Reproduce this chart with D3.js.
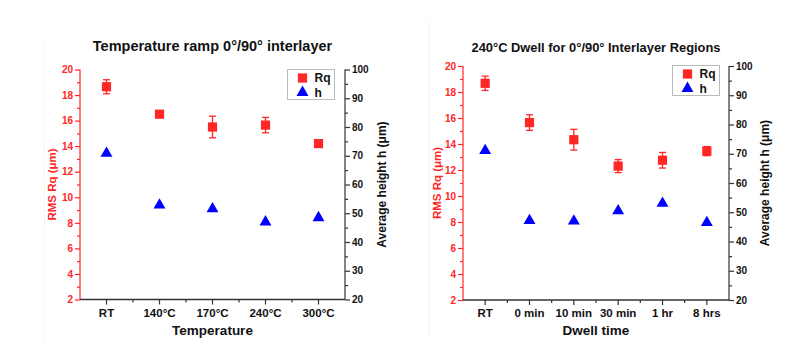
<!DOCTYPE html>
<html>
<head>
<meta charset="utf-8">
<script src="https://cdn.jsdelivr.net/npm/d3@7"></script>
<style>
  body { margin: 0; background: #fff; }
  svg { font-family: "Liberation Sans", Arial, sans-serif; }
</style>
</head>
<body>
<div id="chart"></div>
<script>
// panel 1: temperature ramp
const tempCats = ["RT", "140°C", "170°C", "240°C", "300°C"];
const tempRq = [18.65, 16.5, 15.5, 15.65, 14.2];
const tempRqErr = [0.55, 0.15, 0.85, 0.6, 0.2];
const tempH = [71.2, 53.2, 51.9, 47.3, 48.8];

// panel 2: 240°C dwell
const dwellCats = ["RT", "0 min", "10 min", "30 min", "1 hr", "8 hrs"];
const dwellRq = [18.67, 15.65, 14.33, 12.3, 12.75, 13.45];
const dwellRqErr = [0.55, 0.6, 0.8, 0.5, 0.6, 0.35];
const dwellH = [71.4, 47.5, 47.3, 50.8, 53.4, 46.8];

const rqTicks = d3.range(2, 21, 2);
const hTicks = d3.range(20, 101, 10);

const RED = "#ff2626", BLUE = "#0000ff", AXIS = "#333";

const svg = d3.select("#chart").append("svg")
  .attr("width", 811).attr("height", 351);

// faint panel edges from the original figure
svg.append("line").attr("x1", 44.5).attr("x2", 44.5).attr("y1", 38).attr("y2", 345)
  .attr("stroke", "#f5f5f5");
svg.append("line").attr("x1", 429.5).attr("x2", 429.5).attr("y1", 20).attr("y2", 338)
  .attr("stroke", "#f5f5f5");

function panel(p) {
  const g = svg.append("g");
  const x = d3.scaleBand().domain(p.cats).range([p.left, p.right]);
  const cx = d => x(d) + x.bandwidth() / 2;
  const yL = d3.scaleLinear().domain([2, 20]).range([p.bottom, p.top]);
  const yR = d3.scaleLinear().domain([20, 100]).range([p.bottom, p.top]);

  // title
  g.append("text").attr("x", (p.left + p.right) / 2).attr("y", p.titleY)
    .attr("text-anchor", "middle").attr("font-weight", "bold")
    .attr("font-size", p.titleSize).attr("fill", "#111").text(p.title);

  // left axis (red)
  const axL = g.append("g").attr("transform", `translate(${p.left},0)`)
    .call(d3.axisLeft(yL).tickValues(rqTicks).tickSize(5).tickPadding(2));
  axL.selectAll("line, path").attr("stroke", RED).attr("stroke-width", 1.2);
  axL.selectAll("text").attr("fill", RED).attr("font-weight", "bold").attr("font-size", 10)
    .attr("font-family", "Liberation Sans, Arial, sans-serif");
  axL.select(".domain").attr("d", `M0,${p.top}V${p.bottom}`);
  g.append("g").attr("transform", `translate(${p.left},0)`)
    .call(d3.axisLeft(yL).tickValues(d3.range(3, 20, 2)).tickSize(3).tickFormat(""))
    .call(a => a.select(".domain").remove())
    .selectAll("line").attr("stroke", RED).attr("stroke-width", 1.2);

  // right axis (black)
  const axR = g.append("g").attr("transform", `translate(${p.right},0)`)
    .call(d3.axisRight(yR).tickValues(hTicks).tickSize(5).tickPadding(2));
  axR.selectAll("line, path").attr("stroke", AXIS).attr("stroke-width", 1.2);
  axR.select(".domain").attr("d", `M0,${p.top}V${p.bottom}`);
  axR.selectAll("text").attr("fill", "#111").attr("font-weight", "bold").attr("font-size", 10)
    .attr("font-family", "Liberation Sans, Arial, sans-serif");
  g.append("g").attr("transform", `translate(${p.right},0)`)
    .call(d3.axisRight(yR).tickValues(d3.range(25, 100, 10)).tickSize(3).tickFormat(""))
    .call(a => a.select(".domain").remove())
    .selectAll("line").attr("stroke", AXIS).attr("stroke-width", 1.2);

  // bottom axis
  const axB = g.append("g").attr("transform", `translate(0,${p.bottom})`)
    .call(d3.axisBottom(x).tickSize(5).tickPadding(4).tickSizeOuter(0));
  axB.select(".domain").attr("stroke", AXIS).attr("stroke-width", 1.4)
    .attr("d", `M${p.left},0H${p.right}`);
  axB.selectAll(".tick line").attr("stroke", AXIS).attr("stroke-width", 1.2);
  axB.selectAll("text").attr("fill", "#111").attr("font-weight", "bold").attr("font-size", 11.5)
    .attr("font-family", "Liberation Sans, Arial, sans-serif");
  // minor ticks between categories
  g.append("g").selectAll("line").data(p.cats.slice(1)).join("line")
    .attr("x1", d => x(d)).attr("x2", d => x(d))
    .attr("y1", p.bottom).attr("y2", p.bottom + 3)
    .attr("stroke", AXIS).attr("stroke-width", 1.2);

  // axis titles
  g.append("text").attr("x", (p.left + p.right) / 2).attr("y", p.bottom + 35)
    .attr("text-anchor", "middle").attr("font-weight", "bold").attr("font-size", 13.5)
    .attr("fill", "#111").text(p.xTitle);
  g.append("text")
    .attr("transform", `translate(${p.yLx},${(p.top + p.bottom) / 2}) rotate(-90)`)
    .attr("text-anchor", "middle").attr("font-weight", "bold").attr("font-size", 11.5)
    .attr("fill", RED).text("RMS Rq (μm)");
  g.append("text")
    .attr("transform", `translate(${p.yRx},${(p.top + p.bottom) / 2}) rotate(-90)`)
    .attr("text-anchor", "middle").attr("font-weight", "bold").attr("font-size", 12)
    .attr("fill", "#111").text("Average height h (μm)");

  // error bars
  const rows = p.cats.map((c, i) => ({c, rq: p.rq[i], e: p.err[i], h: p.h[i]}));
  const eb = g.append("g").attr("stroke", RED).attr("stroke-width", 1.3);
  eb.selectAll(".v").data(rows).join("line")
    .attr("x1", d => cx(d.c)).attr("x2", d => cx(d.c))
    .attr("y1", d => yL(d.rq + d.e)).attr("y2", d => yL(d.rq - d.e));
  eb.selectAll(".t").data(rows).join("line")
    .attr("x1", d => cx(d.c) - 3.5).attr("x2", d => cx(d.c) + 3.5)
    .attr("y1", d => yL(d.rq + d.e)).attr("y2", d => yL(d.rq + d.e));
  eb.selectAll(".b").data(rows).join("line")
    .attr("x1", d => cx(d.c) - 3.5).attr("x2", d => cx(d.c) + 3.5)
    .attr("y1", d => yL(d.rq - d.e)).attr("y2", d => yL(d.rq - d.e));

  const sq = d3.symbol(d3.symbolSquare, 85);
  const tri = d3.symbol(d3.symbolTriangle, 62);

  g.append("g").selectAll("path").data(rows).join("path")
    .attr("d", sq).attr("fill", RED)
    .attr("transform", d => `translate(${cx(d.c)},${yL(d.rq)})`);
  g.append("g").selectAll("path").data(rows).join("path")
    .attr("d", tri).attr("fill", BLUE)
    .attr("transform", d => `translate(${cx(d.c)},${yR(d.h) + 1})`);

  // legend
  const lg = g.append("g").attr("transform", `translate(${p.legX},${p.legY})`);
  lg.append("rect").attr("width", 47).attr("height", 30)
    .attr("fill", "#fff").attr("stroke", "#bbb").attr("stroke-width", 1);
  lg.append("path").attr("d", sq).attr("fill", RED).attr("transform", "translate(15,8.5)");
  lg.append("path").attr("d", tri).attr("fill", BLUE).attr("transform", "translate(15,23)");
  lg.append("text").attr("x", 27).attr("y", 12.5).attr("font-weight", "bold")
    .attr("font-size", 12).attr("fill", "#111").text("Rq");
  lg.append("text").attr("x", 27).attr("y", 27).attr("font-weight", "bold")
    .attr("font-size", 12).attr("fill", "#111").text("h");
}

panel({cats: tempCats, rq: tempRq, err: tempRqErr, h: tempH,
  left: 80, right: 345, top: 69.5, bottom: 299.5,
  title: "Temperature ramp 0°/90° interlayer", titleY: 51, titleSize: 14.5,
  xTitle: "Temperature", yLx: 56, yRx: 386, legX: 287.5, legY: 69.5});

panel({cats: dwellCats, rq: dwellRq, err: dwellRqErr, h: dwellH,
  left: 463, right: 729, top: 66, bottom: 300,
  title: "240°C Dwell for 0°/90° Interlayer Regions", titleY: 51.5, titleSize: 12.9,
  xTitle: "Dwell time", yLx: 441, yRx: 769, legX: 672.5, legY: 65.5});
</script>
</body>
</html>
